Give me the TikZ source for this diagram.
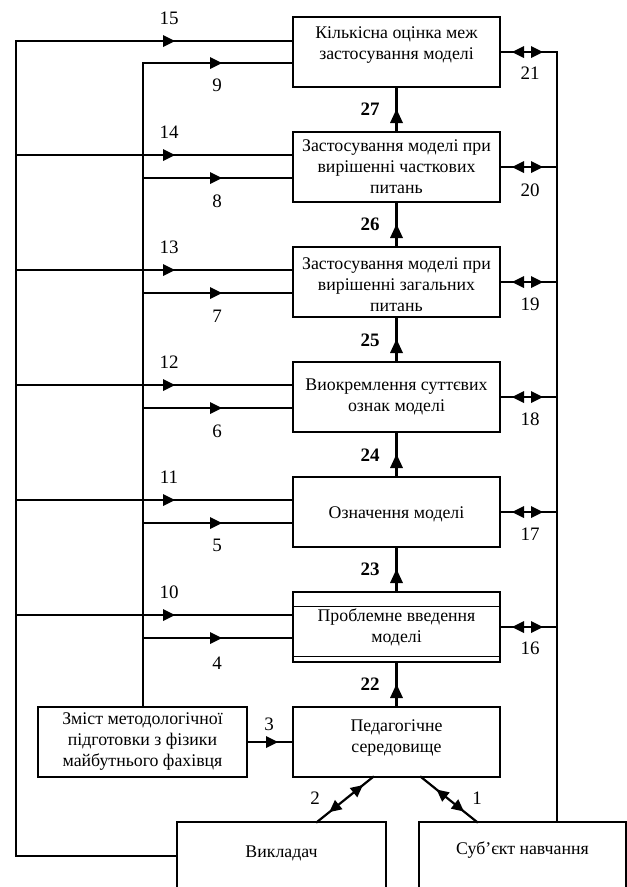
\documentclass[tikz,border=0pt]{standalone}
\usepackage{fontspec}
\setmainfont{Liberation Serif}
\usetikzlibrary{decorations.markings,calc}
\begin{document}
\begin{tikzpicture}[x=1pt,y=-1pt,
  box/.style={draw, line width=2.2pt, minimum width=207pt, minimum height=70pt, inner sep=0pt, outer sep=0pt, align=center, font=\fontsize{17.8}{21}\selectfont},
  conn/.style={line width=2.2pt, line cap=rect},
  num/.style={font=\fontsize{19}{20}\selectfont, inner sep=0pt},
  bnum/.style={font=\bfseries\fontsize{19}{20}\selectfont, inner sep=0pt},
  labtext/.style={anchor=center, inner sep=0pt, align=center, font=\fontsize{17.8}{21}\selectfont},
  fwd/.style={postaction={decorate, decoration={markings, mark=at position #1 with {\fill (0pt,0pt) -- (-12pt,6pt) -- (-12pt,-6pt) -- cycle;}}}},
  bwd/.style={postaction={decorate, decoration={markings, mark=at position #1 with {\fill (0pt,0pt) -- (12pt,6pt) -- (12pt,-6pt) -- cycle;}}}},
  fwdv/.style={postaction={decorate, decoration={markings, mark=at position #1 with {\fill (0pt,0pt) -- (-14pt,6.5pt) -- (-14pt,-6.5pt) -- cycle;}}}}
]
\useasboundingbox (0,0) rectangle (627,887);

% main column
\node[box, label={[labtext, yshift=7pt]center:Кількісна оцінка меж\\застосування моделі}] (b1) at (396.5,52) {};
\node[box] (b2) at (396.5,167) {Застосування моделі при\\вирішенні часткових\\питань};
\node[box, label={[labtext, yshift=-3pt]center:Застосування моделі при\\вирішенні загальних\\питань}] (b3) at (396.5,282) {};
\node[box] (b4) at (396.5,397) {Виокремлення суттєвих\\ознак моделі};
\node[box, label={[labtext, yshift=-2pt]center:Означення моделі}] (b5) at (396.5,512) {};
\node[box] (b6) at (396.5,627) {Проблемне введення\\моделі};
\node[box, label={[labtext, yshift=4pt]center:Педагогічне\\середовище}] (b7) at (396.5,742) {};
\node[box, minimum width=209pt] (zm) at (142.5,742) {Зміст методологічної\\підготовки з фізики\\майбутнього фахівця};
\node[box, minimum width=209pt, minimum height=100pt, label={[labtext, yshift=-31pt]north:Викладач}] (vyk) at (281.5,872) {};
\node[box, minimum width=207pt, minimum height=100pt, label={[labtext, yshift=-28pt]north:Суб’єкт навчання}] (subj) at (522.5,872) {};

\draw[line width=1pt] ([yshift=-14pt]b6.north west) -- ([yshift=-14pt]b6.north east);
\draw[line width=1pt] ([yshift=6pt]b6.south west) -- ([yshift=6pt]b6.south east);

% coordinates
\coordinate (o15) at (16,41);
\coordinate (o14) at (16,155);
\coordinate (o13) at (16,270);
\coordinate (o12) at (16,385);
\coordinate (o11) at (16,500);
\coordinate (o10) at (16,615);
\coordinate (obot) at (16,856);
\coordinate (i9) at (143,63);
\coordinate (i8) at (143,178);
\coordinate (i7) at (143,293);
\coordinate (i6) at (143,408);
\coordinate (i5) at (143,523);
\coordinate (i4) at (143,638);
\coordinate (r21) at (557,52);
\coordinate (r20) at (557,167);
\coordinate (r19) at (557,282);
\coordinate (r18) at (557,397);
\coordinate (r17) at (557,512);
\coordinate (r16) at (557,627);

% spines
\draw[conn] (o15) -- (obot) -- (obot -| vyk.west);
\draw[conn] (i9) -- (i9 |- zm.north);
\draw[conn] (r21) -- (r21 |- subj.north);

% left long lines
\draw[conn, fwd=159pt] (o15) -- (o15 -| b1.west);
\draw[conn, fwd=159pt] (o14) -- (o14 -| b2.west);
\draw[conn, fwd=159pt] (o13) -- (o13 -| b3.west);
\draw[conn, fwd=159pt] (o12) -- (o12 -| b4.west);
\draw[conn, fwd=159pt] (o11) -- (o11 -| b5.west);
\draw[conn, fwd=159pt] (o10) -- (o10 -| b6.west);
% left short lines
\draw[conn, fwd=79pt] (i9) -- (i9 -| b1.west);
\draw[conn, fwd=79pt] (i8) -- (i8 -| b2.west);
\draw[conn, fwd=79pt] (i7) -- (i7 -| b3.west);
\draw[conn, fwd=79pt] (i6) -- (i6 -| b4.west);
\draw[conn, fwd=79pt] (i5) -- (i5 -| b5.west);
\draw[conn, fwd=79pt] (i4) -- (i4 -| b6.west);
% right lines
\draw[conn, bwd=12pt, fwd=43pt] (b1.east) -- (r21);
\draw[conn, bwd=12pt, fwd=43pt] (b2.east) -- (r20);
\draw[conn, bwd=12pt, fwd=43pt] (b3.east) -- (r19);
\draw[conn, bwd=12pt, fwd=43pt] (b4.east) -- (r18);
\draw[conn, bwd=12pt, fwd=43pt] (b5.east) -- (r17);
\draw[conn, bwd=12pt, fwd=43pt] (b6.east) -- (r16);
% vertical arrows
\draw[conn, fwdv=23pt] (b2.north) -- (b1.south);
\draw[conn, fwdv=23pt] (b3.north) -- (b2.south);
\draw[conn, fwdv=23pt] (b4.north) -- (b3.south);
\draw[conn, fwdv=23pt] (b5.north) -- (b4.south);
\draw[conn, fwdv=23pt] (b6.north) -- (b5.south);
\draw[conn, fwdv=23pt] (b7.north) -- (b6.south);
% bottom
\draw[conn, fwd=31pt] (zm.east) -- (b7.west);
\draw[conn, bwd=13pt, fwd=56pt] ([xshift=-23.5pt]b7.south) -- ([xshift=35.5pt]vyk.north);
\draw[conn, bwd=20pt, fwd=55pt] ([xshift=24.5pt]b7.south) -- ([xshift=-45.5pt]subj.north);

% labels
\node[num] (n15) at (169,18) {15};
\node[num] (n14) at (169,132) {14};
\node[num] (n13) at (169,247) {13};
\node[num] (n12) at (169,362) {12};
\node[num] (n11) at (169,477) {11};
\node[num] (n10) at (169,592) {10};
\node[num] (n9) at (217,85) {9};
\node[num] (n8) at (217,201) {8};
\node[num] (n7) at (217,316) {7};
\node[num] (n6) at (217,431) {6};
\node[num] (n5) at (217,545) {5};
\node[num] (n4) at (217,663) {4};
\node[num] (n21) at (530,73) {21};
\node[num] (n20) at (530,190) {20};
\node[num] (n19) at (530,304) {19};
\node[num] (n18) at (530,419) {18};
\node[num] (n17) at (530,534) {17};
\node[num] (n16) at (530,648) {16};
\node[bnum] (n27) at (370,109) {27};
\node[bnum] (n26) at (370,224) {26};
\node[bnum] (n25) at (370,340) {25};
\node[bnum] (n24) at (370,455) {24};
\node[bnum] (n23) at (370,569) {23};
\node[bnum] (n22) at (370,684) {22};
\node[num] (n3) at (269,724) {3};
\node[num] (n2) at (315,798) {2};
\node[num] (n1) at (477,798) {1};
\end{tikzpicture}
\end{document}
